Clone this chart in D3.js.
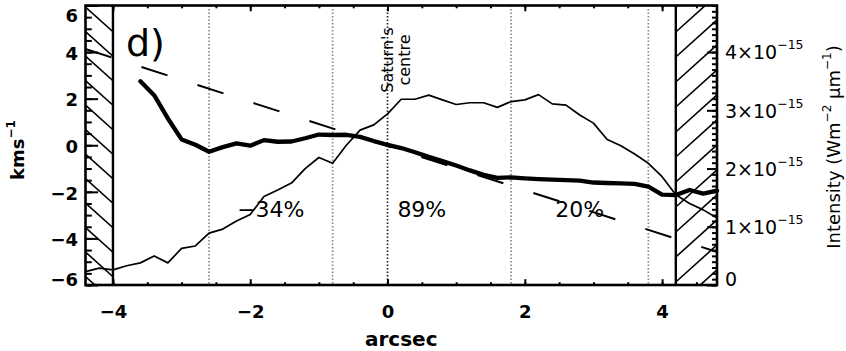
<!DOCTYPE html>
<html><head><meta charset="utf-8">
<script src="https://cdn.jsdelivr.net/npm/d3@7"></script>
<style>body{margin:0;background:#fff;} svg{display:block;font-family:"DejaVu Sans",sans-serif;}</style>
</head><body><svg id="c" width="846" height="351"></svg>
<script>
// ---- data ----
const positions = [-4.4,-4.2,-4.0,-3.8,-3.6,-3.4,-3.2,-3.0,-2.8,-2.6,-2.4,-2.2,-2.0,-1.8,-1.6,-1.4,-1.2,-1.0,-0.8,-0.6,-0.4,-0.2,0.0,0.2,0.4,0.6,0.8,1.0,1.2,1.4,1.6,1.8,2.0,2.2,2.4,2.6,2.8,3.0,3.2,3.4,3.6,3.8,4.0,4.2,4.4,4.6,4.8];
// intensity in units of 1e-15 W m^-2 um^-1
const intensity = [0.23,0.29,0.26,0.33,0.38,0.50,0.38,0.63,0.67,0.89,0.96,1.10,1.21,1.52,1.63,1.75,2.00,2.19,2.09,2.40,2.66,2.75,2.94,3.19,3.19,3.26,3.18,3.10,3.13,3.13,3.05,3.15,3.18,3.27,3.11,3.09,2.92,2.78,2.50,2.39,2.25,2.09,1.86,1.55,1.40,1.29,1.15];
const velocityPositions = [-3.6,-3.4,-3.2,-3.0,-2.8,-2.6,-2.4,-2.2,-2.0,-1.8,-1.6,-1.4,-1.2,-1.0,-0.8,-0.6,-0.4,-0.2,0.0,0.2,0.4,0.6,0.8,1.0,1.2,1.4,1.6,1.8,2.0,2.2,2.4,2.6,2.8,3.0,3.2,3.4,3.6,3.8,4.0,4.2,4.4,4.6,4.8];
const velocity = [2.75,2.15,1.15,0.25,0.02,-0.28,-0.08,0.08,-0.02,0.22,0.15,0.16,0.30,0.46,0.44,0.45,0.36,0.18,0.02,-0.12,-0.30,-0.50,-0.68,-0.87,-1.08,-1.27,-1.40,-1.38,-1.42,-1.45,-1.48,-1.50,-1.52,-1.60,-1.62,-1.64,-1.66,-1.78,-2.12,-2.14,-1.92,-2.08,-1.95];
const fitPositions = [-4.4, 4.8];
const fitVelocity = [4.13, -4.58];
const dividers = [-2.6, -0.8, 1.8, 3.8];
const centrePosition = 0;
const maskedRanges = [[-4.4, -4.0], [4.2, 4.8]];
const regionLabels = ["\u221234%", "89%", "20%"];
const regionBounds = [[-2.6, -0.8], [-0.8, 1.8], [1.8, 3.8]];
const regionLabelLevel = -3.08;
const xTicks = [-4, -2, 0, 2, 4];
const yTicks = [-6, -4, -2, 0, 2, 4, 6];
const intensityTicks = [0, 1, 2, 3, 4];
const intensityTickLabels = ["0", "1\u00d710", "2\u00d710", "3\u00d710", "4\u00d710"];
const intensityExponent = "\u221215";
const panelLabel = "d)";

// ---- layout ----
const M = {l: 85.5, r: 717, t: 5.5, b: 285};
const svg = d3.select("#c");
const x = d3.scaleLinear().domain([-4.4, 4.8]).range([M.l, M.r]);
const yV = d3.scaleLinear().domain([-6, 6]).range([M.b, M.t]);
const yI = d3.scaleLinear().domain([0, 4.8]).range([M.b, M.t]);
const minus = d => d < 0 ? "\u2212" + Math.abs(d) : "" + d;

// hatched masked regions
maskedRanges.forEach((r, i) => {
  const x0 = x(r[0]), x1 = x(r[1]), w = x1 - x0;
  svg.append("clipPath").attr("id", "h" + i).append("rect")
    .attr("x", x0).attr("y", M.t).attr("width", w).attr("height", M.b - M.t);
  const g = svg.append("g").attr("clip-path", `url(#h${i})`);
  const dir = i === 0 ? 1 : -1;
  const step = i === 0 ? 24.5 : 25;
  for (let y0 = M.t + 1.5 - step * 4; y0 < M.b + step * 4; y0 += step) {
    g.append("line").attr("x1", x0).attr("y1", y0).attr("x2", x1).attr("y2", y0 + dir * 0.9 * w)
      .attr("stroke", "#000").attr("stroke-width", 1.6);
  }
});
// masked region boundaries
[maskedRanges[0][1], maskedRanges[1][0]].forEach(v => {
  svg.append("line").attr("x1", x(v)).attr("x2", x(v)).attr("y1", M.t).attr("y2", M.b)
    .attr("stroke", "#000").attr("stroke-width", 2.4);
});

// dotted dividers
dividers.forEach(v => {
  svg.append("line").attr("x1", x(v)).attr("x2", x(v)).attr("y1", M.t).attr("y2", M.b)
    .attr("stroke", "#888").attr("stroke-width", 1.7).attr("stroke-dasharray", "1.6,1.9");
});
svg.append("line").attr("x1", x(centrePosition)).attr("x2", x(centrePosition)).attr("y1", M.t).attr("y2", M.b)
  .attr("stroke", "#222").attr("stroke-width", 1.7).attr("stroke-dasharray", "1.6,1.9");

// intensity (thin)
svg.append("path").datum(positions.map((p, i) => [p, intensity[i]]))
  .attr("d", d3.line().x(d => x(d[0])).y(d => yI(d[1])))
  .attr("fill", "none").attr("stroke", "#000").attr("stroke-width", 1.7).attr("stroke-linejoin", "round");

// linear fit (dashed)
svg.append("path").datum(fitPositions.map((p, i) => [p, fitVelocity[i]]))
  .attr("d", d3.line().x(d => x(d[0])).y(d => yV(d[1])))
  .attr("fill", "none").attr("stroke", "#000").attr("stroke-width", 2).attr("stroke-dasharray", "27.3,31.5");

// velocity (thick)
svg.append("path").datum(velocityPositions.map((p, i) => [p, velocity[i]]))
  .attr("d", d3.line().x(d => x(d[0])).y(d => yV(d[1])))
  .attr("fill", "none").attr("stroke", "#000").attr("stroke-width", 4.3).attr("stroke-linejoin", "round").attr("stroke-linecap", "round");

// ---- axes ----
function styleTicks(g) { g.select(".domain").remove(); g.selectAll("line").attr("stroke", "#000").attr("stroke-width", 2); }
const minorX = d3.range(-4.0, 5.0, 0.5);
const minorY = d3.range(-6, 6.01, 0.5);
const minorI = d3.range(0, 4.81, 0.1);

// bottom
const gb = svg.append("g").attr("transform", `translate(0,${M.b})`);
gb.call(d3.axisBottom(x).tickValues(minorX).tickSize(-2.8).tickFormat("")).call(styleTicks);
const gbm = svg.append("g").attr("transform", `translate(0,${M.b})`);
gbm.call(d3.axisBottom(x).tickValues(xTicks).tickSizeInner(-5.8).tickSizeOuter(0).tickPadding(20).tickFormat(minus)).call(styleTicks);
gbm.selectAll("text").attr("font-family", "DejaVu Sans").attr("font-size", 18).attr("font-weight", "bold").attr("fill", "#000");
// top
const gt = svg.append("g").attr("transform", `translate(0,${M.t})`);
gt.call(d3.axisTop(x).tickValues(minorX).tickSize(-2.8).tickFormat("")).call(styleTicks);
const gtm = svg.append("g").attr("transform", `translate(0,${M.t})`);
gtm.call(d3.axisTop(x).tickValues(xTicks).tickSize(-5.8).tickFormat("")).call(styleTicks);
// left
const gl = svg.append("g").attr("transform", `translate(${M.l},0)`);
gl.call(d3.axisLeft(yV).tickValues(minorY).tickSize(-6.3).tickFormat("")).call(styleTicks);
const glm = svg.append("g").attr("transform", `translate(${M.l},0)`);
glm.call(d3.axisLeft(yV).tickValues(yTicks).tickSizeInner(-12.6).tickSizeOuter(0).tickPadding(7.5).tickFormat(minus)).call(styleTicks);
glm.selectAll("text").attr("font-family", "DejaVu Sans").attr("font-size", 18).attr("font-weight", "bold").attr("fill", "#000")
  .attr("dy", d => d === 6 ? "0.9em" : d === -6 ? "0.0em" : "0.4em");
// right
const gr = svg.append("g").attr("transform", `translate(${M.r},0)`);
gr.call(d3.axisRight(yI).tickValues(minorI).tickSize(-5).tickFormat("")).call(styleTicks);
const grm = svg.append("g").attr("transform", `translate(${M.r},0)`);
grm.call(d3.axisRight(yI).tickValues(intensityTicks).tickSizeInner(-10).tickSizeOuter(0).tickPadding(8).tickFormat("")).call(styleTicks);
grm.selectAll("text").each(function(d, i) {
  const t = d3.select(this).attr("font-family", "DejaVu Sans").attr("font-size", 19).attr("fill", "#000")
    .attr("dy", d === 0 ? "0.05em" : "0.36em").attr("text-anchor", "start");
  t.append("tspan").text(intensityTickLabels[i]);
  if (d !== 0) t.append("tspan").attr("font-size", 12.5).attr("dy", -10).text(intensityExponent);
});

// frame
svg.append("rect").attr("x", M.l).attr("y", M.t).attr("width", M.r - M.l).attr("height", M.b - M.t)
  .attr("fill", "none").attr("stroke", "#000").attr("stroke-width", 2.6);

// ---- texts ----
svg.append("text").attr("x", 126).attr("y", 56).attr("font-size", 38).attr("fill", "#000").text(panelLabel);

regionLabels.forEach((s, i) => {
  svg.append("text").attr("x", x((regionBounds[i][0] + regionBounds[i][1]) / 2)).attr("y", yV(regionLabelLevel))
    .attr("text-anchor", "middle").attr("font-size", 22).attr("fill", "#000").text(s);
});

const cx = x(centrePosition);
svg.append("text").attr("transform", `translate(${cx + 5},60) rotate(-90)`).attr("text-anchor", "middle")
  .attr("font-size", 16).attr("fill", "#000").text("Saturn's");
svg.append("text").attr("transform", `translate(${cx + 22},60) rotate(-90)`).attr("text-anchor", "middle")
  .attr("font-size", 16).attr("fill", "#000").text("centre");

// x title
svg.append("text").attr("x", (M.l + M.r) / 2).attr("y", 346).attr("text-anchor", "middle")
  .attr("font-size", 20).attr("font-weight", "bold").attr("fill", "#000").text("arcsec");

// left title
const lt = svg.append("text").attr("transform", "translate(24,150) rotate(-90)").attr("text-anchor", "middle")
  .attr("font-size", 18).attr("font-weight", "bold").attr("fill", "#000");
lt.append("tspan").text("kms");
lt.append("tspan").attr("font-size", 12).attr("dy", -9).text("\u22121");

// right title
const rt = svg.append("text").attr("transform", "translate(840,147) rotate(-90)").attr("text-anchor", "middle")
  .attr("font-size", 18).attr("fill", "#000");
rt.append("tspan").text("Intensity (Wm");
rt.append("tspan").attr("font-size", 12).attr("dy", -9).text("\u22122");
rt.append("tspan").attr("dy", 9).text(" \u03bcm");
rt.append("tspan").attr("font-size", 12).attr("dy", -9).text("\u22121");
rt.append("tspan").attr("dy", 9).text(")");
</script>
</body></html>
